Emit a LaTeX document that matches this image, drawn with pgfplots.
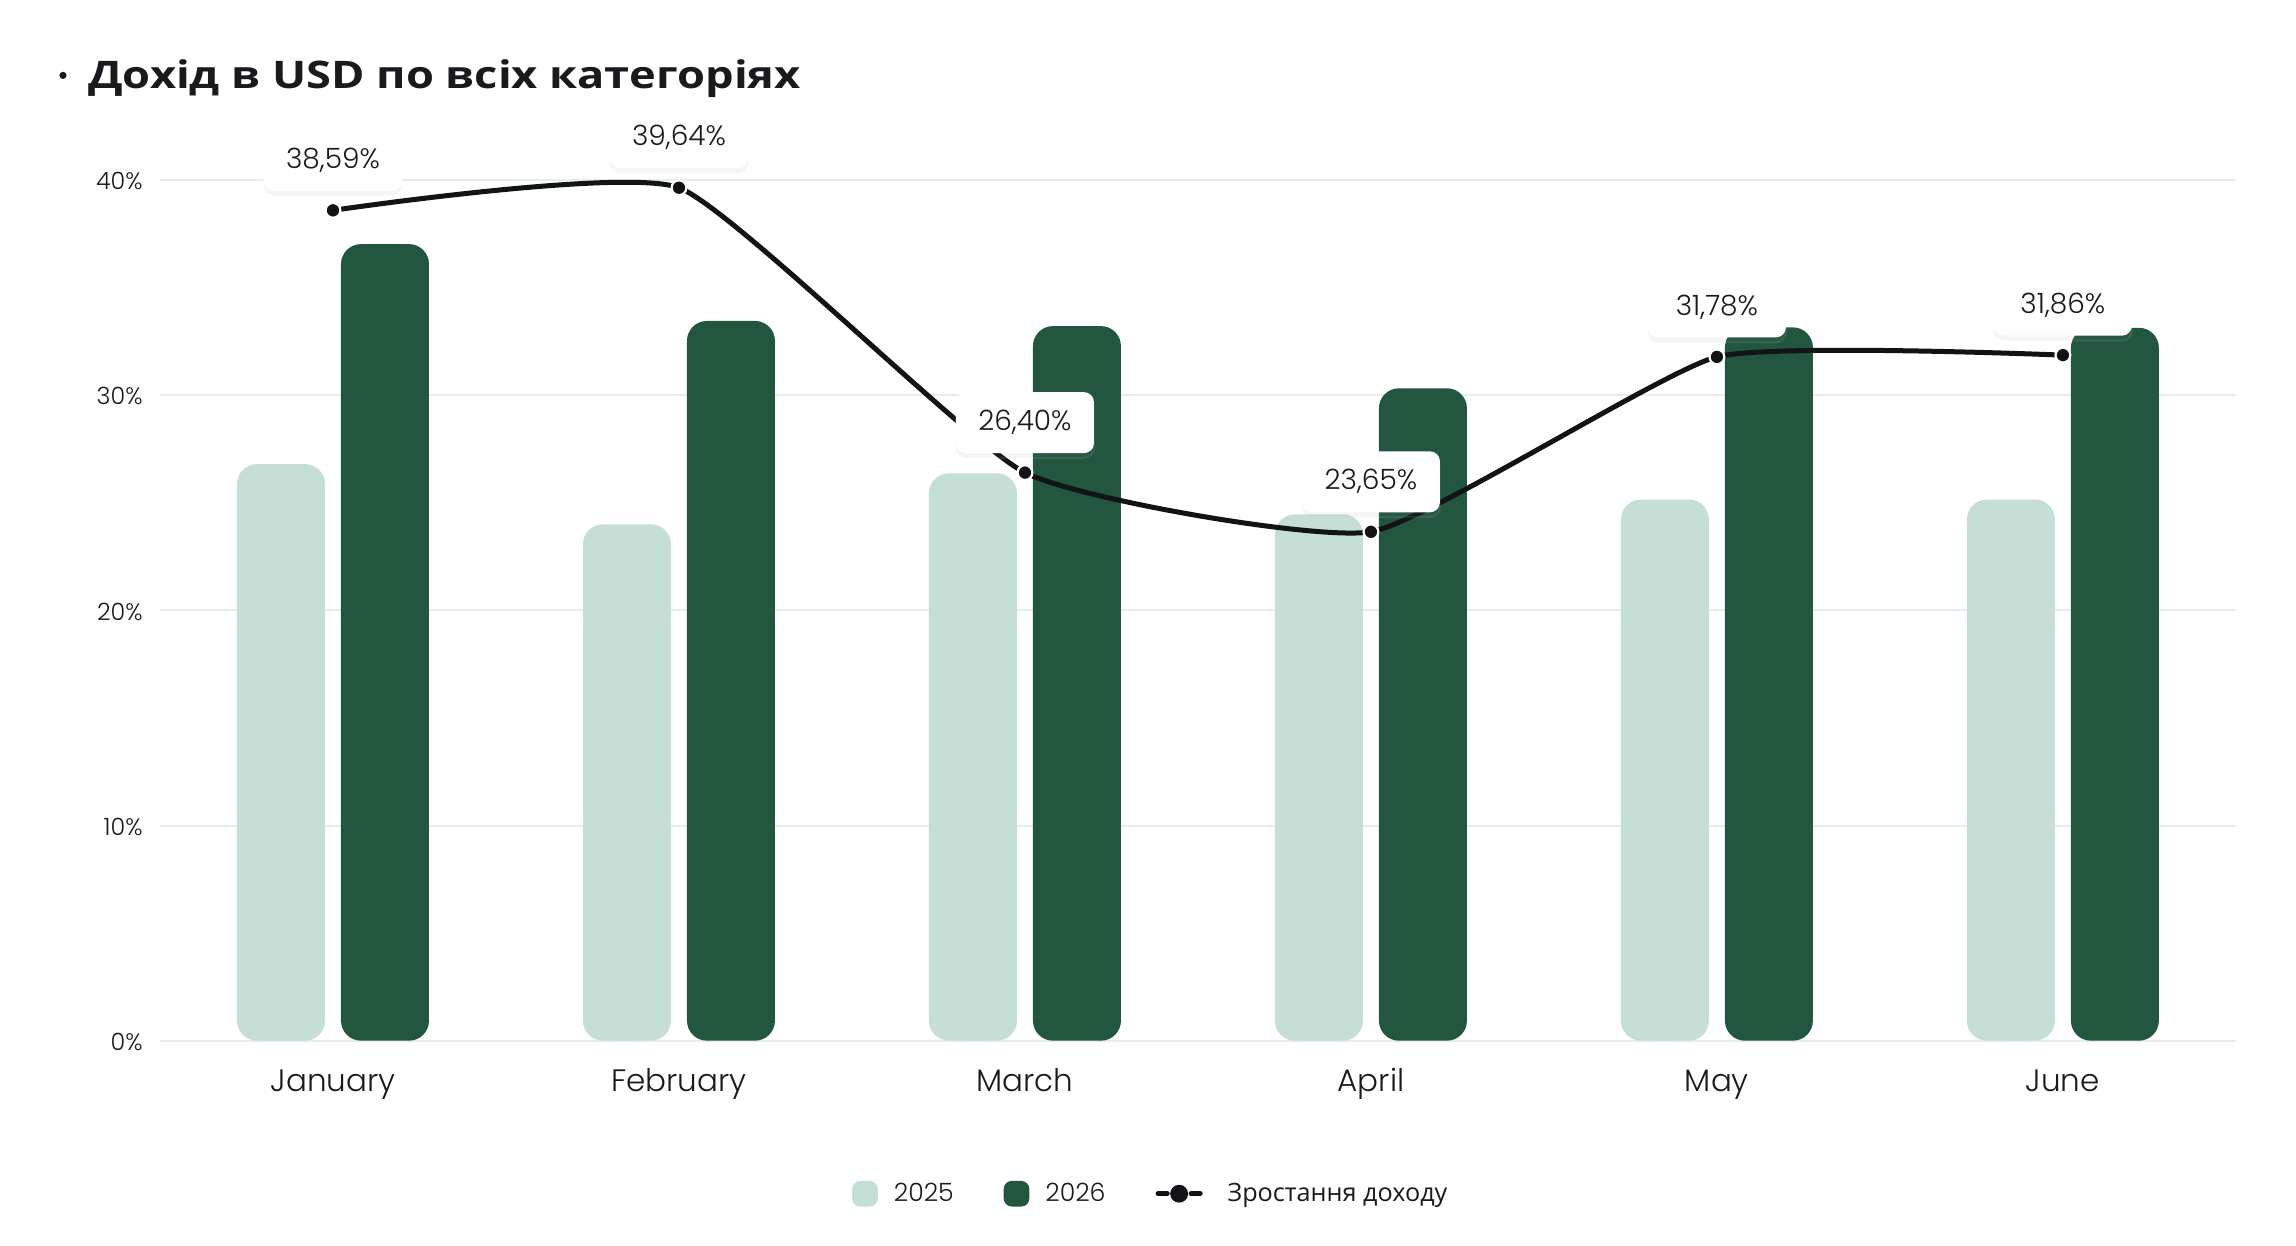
\documentclass[border=0pt]{standalone}
\usepackage{fontspec}
\setmainfont{Open Sans}
\IfFontExistsTF{Poppins Light}{\newfontfamily\pop{Poppins Light}}{\newfontfamily\pop{Poppins}}
\newfontfamily\titlefont{Open Sans}[FakeStretch=1.19]
\usepackage{pgfplots}
\usepackage{pgfplotstable}
\pgfplotsset{compat=1.18}
\usetikzlibrary{shadows}
\definecolor{c25}{HTML}{C5DFD6}
\definecolor{c26}{HTML}{22563F}
\definecolor{cline}{HTML}{121316}
\definecolor{cgrid}{HTML}{E4EFE7}
\definecolor{ctext}{HTML}{1A1A1E}

\pgfplotstableread{
x y25 y26
0 26.80 37.02
1 24.00 33.45
2 26.37 33.21
3 24.46 30.32
4 25.15 33.15
5 25.15 33.13
}\bars

\pgfplotstableread{
x y lab
0 38.59 38,59\%
1 39.64 39,64\%
2 26.40 26,40\%
3 23.65 23,65\%
4 31.78 31,78\%
5 31.86 31,86\%
}\growth

\begin{document}
\begin{tikzpicture}
\begin{axis}[
  at={(80pt,102.65pt)}, anchor=south west,
  scale only axis, width=1038pt, height=430.35pt,
  xmin=-0.5, xmax=5.5, ymin=0, ymax=40,
  clip=false,
  axis line style={draw=none},
  major tick style={draw=none},
  ymajorgrids, grid style={cgrid, line width=1pt},
  ytick={0,10,20,30,40},
  yticklabels={0\%,10\%,20\%,30\%,40\%},
  xtick={0,1,2,3,4,5},
  xticklabels={January,February,March,April,May,June},
  yticklabel style={font=\pop\fontsize{11.9pt}{13pt}\selectfont, anchor=base east, inner sep=0pt, xshift=-8.5pt, yshift=-4.9pt, text=ctext},
  xticklabel style={font=\pop\fontsize{15.5pt}{18pt}\selectfont, anchor=base, inner sep=0pt, yshift=-25.5pt, text=ctext},
  legend columns=3,
  legend style={at={(0.4768,-0.1778)}, anchor=center, draw=none, fill=none,
    font=\fontsize{12.6pt}{15pt}\selectfont, text=ctext,
    /tikz/every even column/.append style={column sep=25pt},
    nodes={inner sep=0pt}},
  legend cell align=left,
]
\addplot[ybar, bar width=44pt, bar shift=-26pt, fill=c25, draw=none, rounded corners=10pt,
  legend image code/.code={\fill[c25, rounded corners=4pt] (0pt,-6.4pt) rectangle (12.8pt,6.4pt);
     \path (20.8pt,0pt);}]
  table[x=x, y=y25]{\bars};
\addlegendentry{{\pop 2025}}
\addplot[ybar, bar width=44pt, bar shift=26pt, fill=c26, draw=none, rounded corners=10pt,
  legend image code/.code={\fill[c26, rounded corners=4pt] (0pt,-6.4pt) rectangle (12.8pt,6.4pt);
     \path (20.8pt,0pt);}]
  table[x=x, y=y26]{\bars};
\addlegendentry{{\pop 2026}}
\addplot[cline, line width=2.5pt, smooth, tension=0.28,
  mark=*, mark size=3.7pt, mark options={fill=cline, draw=white, line width=1.1pt},
  point meta=explicit symbolic,
  nodes near coords,
  every node near coord/.append style={font=\pop\fontsize{14pt}{16pt}\selectfont, text=ctext,
     fill=white, rounded corners=5pt, minimum width=69pt, minimum height=30.5pt, inner sep=0pt,
     anchor=center, yshift=25pt,
     drop shadow={shadow xshift=0pt, shadow yshift=-2.5pt, opacity=0.08}},
  legend image code/.code={
     \draw[cline, line width=2.6pt, line cap=round] (1pt,0pt) -- (5.5pt,0pt);
     \draw[cline, line width=2.6pt, line cap=round] (17.5pt,0pt) -- (22pt,0pt);
     \fill[cline] (11.5pt,0pt) circle (3.2pt);
     \path (34.5pt,0pt);}]
  table[x=x, y=y, meta=lab]{\growth};
\addlegendentry{Зростання доходу}
\end{axis}
\fill[ctext] (31.5pt,585.3pt) circle (1.8pt);
\node[anchor=base west, inner sep=0pt, text=ctext, font=\titlefont\bfseries\fontsize{19pt}{22pt}\selectfont] at (44pt,578.5pt) {Дохід в USD по всіх категоріях};
\pgfresetboundingbox
\path[use as bounding box] (0,0) rectangle (1148pt,623pt);
\end{tikzpicture}
\end{document}
